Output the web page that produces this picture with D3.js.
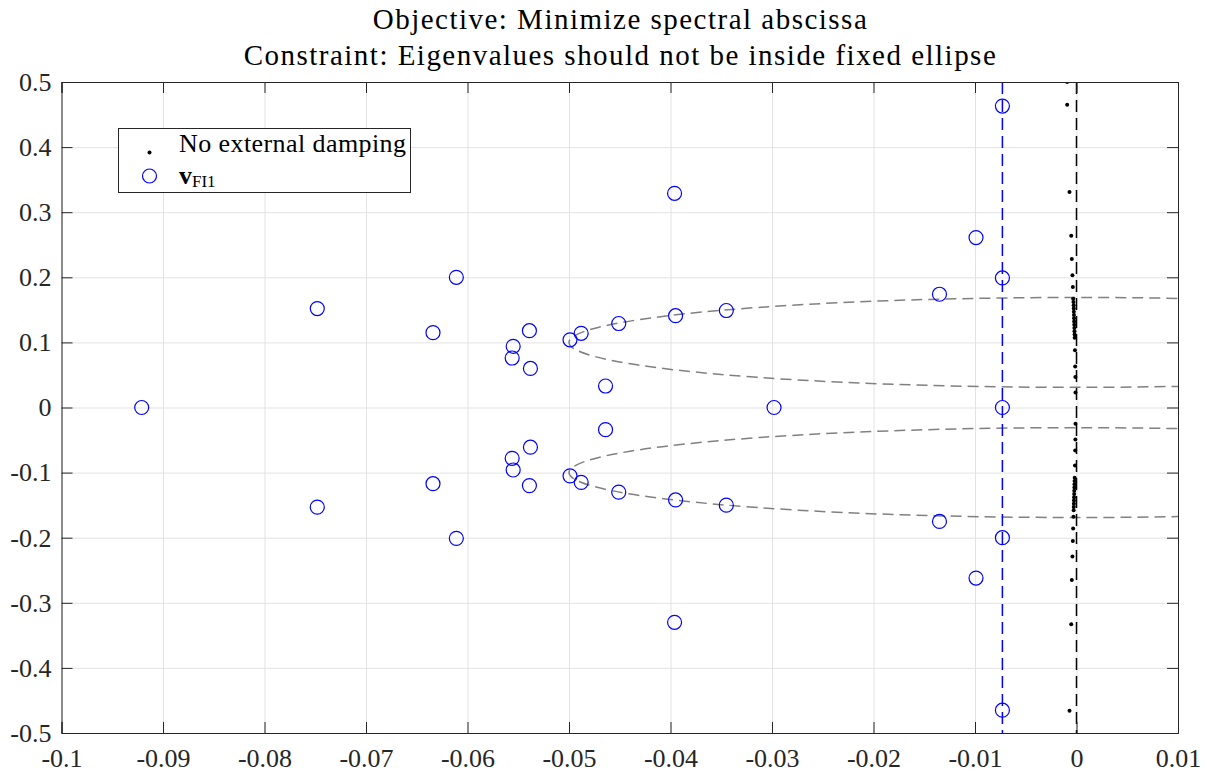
<!DOCTYPE html>
<meta charset="utf-8">
<html>
<style>
body { margin: 0; background: #fff; }
.grid line { stroke: #e3e3e3; stroke-width: 1; }
.grid path { display: none; }
.axis path, .axis line { stroke: #262626; stroke-width: 1; }
</style>
<svg width="1211" height="773"></svg>
<script src="https://d3js.org/d3.v7.min.js"></script>
<script>
// tick values and labels
var xTicks = [-0.1, -0.09, -0.08, -0.07, -0.06, -0.05, -0.04, -0.03, -0.02, -0.01, 0, 0.01];
var xTickLabels = ["-0.1", "-0.09", "-0.08", "-0.07", "-0.06", "-0.05", "-0.04", "-0.03", "-0.02", "-0.01", "0", "0.01"];
var yTicks = [-0.5, -0.4, -0.3, -0.2, -0.1, 0, 0.1, 0.2, 0.3, 0.4, 0.5];
var yTickLabels = ["-0.5", "-0.4", "-0.3", "-0.2", "-0.1", "0", "0.1", "0.2", "0.3", "0.4", "0.5"];

// eigenvalues, no external damping (black dots)
var dampRe = [-0.00092, -0.00069, -0.00052, -0.00046, -0.0004, -0.00036, -0.00033, -0.0003, -0.00028, -0.00027, -0.00026, -0.00025, -0.00024, -0.00023, -0.00022, -0.00021, -0.0002, -0.00019, -0.00018, -0.00015, -0.00013, -0.00011, -0.0001,
              -0.0001, -0.00011, -0.00013, -0.00015, -0.00018, -0.00019, -0.0002, -0.00021, -0.00022, -0.00023, -0.00024, -0.00025, -0.00026, -0.00027, -0.00028, -0.0003, -0.00033, -0.00036, -0.0004, -0.00046, -0.00052, -0.00069, -0.00092];
var dampIm = [0.465, 0.331, 0.264, 0.228, 0.203, 0.185, 0.167, 0.162, 0.157, 0.152, 0.147, 0.142, 0.137, 0.132, 0.127, 0.122, 0.117, 0.112, 0.107, 0.088, 0.063, 0.047, 0.023,
              -0.025, -0.049, -0.066, -0.089, -0.108, -0.113, -0.118, -0.123, -0.128, -0.133, -0.138, -0.143, -0.148, -0.153, -0.158, -0.168, -0.186, -0.205, -0.229, -0.265, -0.333, -0.466];

// eigenvalues, v_FI1 (blue circles)
var fiRe = [-0.0921, -0.0748, -0.0748, -0.0611, -0.0611, -0.0634, -0.0634, -0.0555, -0.0555, -0.0556, -0.0556,
            -0.0539, -0.0539, -0.0538, -0.0538, -0.0499, -0.0499, -0.0488, -0.0488, -0.0451, -0.0451, -0.0395, -0.0395,
            -0.0345, -0.0345, -0.0464, -0.0464, -0.0396, -0.0396, -0.0298, -0.0135, -0.0135, -0.0099, -0.0099,
            -0.0073, -0.0073, -0.0073, -0.0073, -0.0073];
var fiIm = [0, 0.152, -0.153, 0.2, -0.201, 0.115, -0.117, 0.094, -0.096, 0.076, -0.078,
            0.118, -0.12, 0.06, -0.061, 0.104, -0.105, 0.114, -0.115, 0.129, -0.13, 0.141, -0.142,
            0.149, -0.15, 0.033, -0.034, 0.329, -0.33, 0, 0.174, -0.175, 0.261, -0.262,
            0.463, -0.465, 0.199, -0.2, 0];

// spectral abscissa lines and the fixed ellipses
var abscissaFI = -0.0073;
var abscissaNone = 0;
var ellipseRe = 0, ellipseIm = [0.1, -0.1], ellipseSemiRe = 0.05, ellipseSemiIm = 0.069;

var titleLines = ["Objective: Minimize spectral abscissa", "Constraint: Eigenvalues should not be inside fixed ellipse"];

var serif = '"Liberation Serif", "Times New Roman", "DejaVu Serif", serif';

var svg = d3.select("svg"),
    margin = {top: 82, right: 33, bottom: 40, left: 61.5},
    width = 1211 - margin.left - margin.right,
    height = 773 - margin.top - margin.bottom;

var x = d3.scaleLinear().domain([-0.1, 0.01]).range([0, width]);
var y = d3.scaleLinear().domain([-0.5, 0.5]).range([height, 0]);

svg.append("rect").attr("width", 1211).attr("height", 773).attr("fill", "#fff");

var g = svg.append("g").attr("transform", "translate(" + margin.left + "," + margin.top + ")");

g.append("clipPath").attr("id", "clip")
  .append("rect").attr("width", width).attr("height", height);

// grid
g.append("g").attr("class", "grid")
    .attr("transform", "translate(0," + height + ")")
    .call(d3.axisBottom(x).tickValues(xTicks).tickSize(-height).tickFormat(""));
g.append("g").attr("class", "grid")
    .call(d3.axisLeft(y).tickValues(yTicks).tickSize(-width).tickFormat(""));

var plot = g.append("g").attr("clip-path", "url(#clip)");

// fixed ellipses
plot.selectAll("ellipse")
    .data(ellipseIm)
  .enter().append("ellipse")
    .attr("cx", x(ellipseRe))
    .attr("cy", function(d) { return y(d); })
    .attr("rx", x(ellipseRe + ellipseSemiRe) - x(ellipseRe))
    .attr("ry", y(0) - y(ellipseSemiIm))
    .attr("fill", "none")
    .attr("stroke", "#808080")
    .attr("stroke-width", 1.5)
    .attr("stroke-dasharray", "11,6");

// spectral abscissa lines
plot.append("line")
    .attr("x1", x(abscissaFI)).attr("x2", x(abscissaFI))
    .attr("y1", 0).attr("y2", height)
    .attr("stroke", "#0000ff").attr("stroke-width", 1.5)
    .attr("stroke-dasharray", "12,6");
plot.append("line")
    .attr("x1", x(abscissaNone)).attr("x2", x(abscissaNone))
    .attr("y1", 0).attr("y2", height)
    .attr("stroke", "#000").attr("stroke-width", 1.5)
    .attr("stroke-dasharray", "12,6");

// black dots
plot.selectAll(".dot")
    .data(dampRe.map(function(d, i) { return [d, dampIm[i]]; }))
  .enter().append("circle")
    .attr("class", "dot")
    .attr("cx", function(d) { return x(d[0]); })
    .attr("cy", function(d) { return y(d[1]); })
    .attr("r", 2)
    .attr("fill", "#000");

// blue circles
plot.selectAll(".fi")
    .data(fiRe.map(function(d, i) { return [d, fiIm[i]]; }))
  .enter().append("circle")
    .attr("class", "fi")
    .attr("cx", function(d) { return x(d[0]); })
    .attr("cy", function(d) { return y(d[1]); })
    .attr("r", 7)
    .attr("fill", "none")
    .attr("stroke", "#0000ff")
    .attr("stroke-width", 1.2);

// axes, ticks pointing inwards on all four sides
g.append("g").attr("class", "axis")
    .attr("transform", "translate(0," + height + ")")
    .call(d3.axisBottom(x).tickValues(xTicks).tickSize(-11).tickPadding(15.5)
      .tickFormat(function(d, i) { return xTickLabels[i]; }));
g.append("g").attr("class", "axis")
    .call(d3.axisTop(x).tickValues(xTicks).tickSize(-11).tickFormat(""));
g.append("g").attr("class", "axis")
    .call(d3.axisLeft(y).tickValues(yTicks).tickSize(-11).tickPadding(10)
      .tickFormat(function(d, i) { return yTickLabels[i]; }));
g.append("g").attr("class", "axis")
    .attr("transform", "translate(" + width + ",0)")
    .call(d3.axisRight(y).tickValues(yTicks).tickSize(-11).tickFormat(""));
g.selectAll(".axis text")
    .attr("fill", "#262626")
    .style("font-family", serif)
    .style("font-size", "26px");

// title
svg.selectAll(".title")
    .data(titleLines)
  .enter().append("text")
    .attr("class", "title")
    .attr("x", margin.left + width / 2)
    .attr("y", function(d, i) { return 29 + i * 36; })
    .attr("text-anchor", "middle")
    .attr("fill", "#000")
    .style("font-family", serif)
    .style("font-size", "29px")
    .attr("textLength", function(d, i) { return i === 0 ? 494 : 752; })
    .attr("lengthAdjust", "spacing")
    .text(function(d) { return d; });

// legend
var lg = svg.append("g").attr("transform", "translate(118.5,128.5)");
lg.append("rect").attr("width", 292).attr("height", 64)
    .attr("fill", "#fff").attr("stroke", "#262626").attr("stroke-width", 1);
lg.append("circle").attr("cx", 31).attr("cy", 24).attr("r", 2).attr("fill", "#000");
lg.append("text").attr("x", 60.5).attr("y", 23.5)
    .style("font-family", serif).style("font-size", "26px").attr("fill", "#000")
    .attr("textLength", 227).attr("lengthAdjust", "spacing")
    .text("No external damping");
lg.append("circle").attr("cx", 31).attr("cy", 47.5).attr("r", 7)
    .attr("fill", "none").attr("stroke", "#0000ff").attr("stroke-width", 1.2);
var vt = lg.append("text").attr("x", 60.5).attr("y", 55).attr("fill", "#000")
    .style("font-family", serif);
vt.append("tspan").style("font-size", "26px").style("font-weight", "bold").text("v");
vt.append("tspan").attr("dy", 3).style("font-size", "17px").text("FI1");
</script>
</html>
